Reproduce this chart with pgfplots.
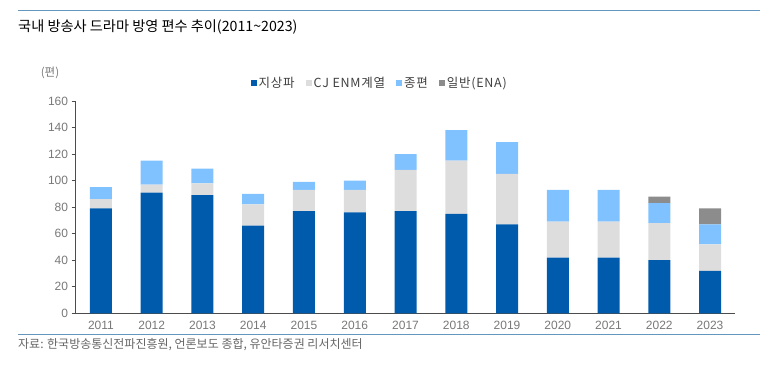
\documentclass[border=0pt]{standalone}
\usepackage{fontspec}
\setmainfont{Liberation Sans}
\newfontfamily\kr{Noto Sans CJK KR}
\newfontfamily\krwide[LetterSpace=6]{Noto Sans CJK KR}
\usepackage{pgfplots}
\pgfplotsset{compat=1.18}
\definecolor{cA}{RGB}{0,91,172}
\definecolor{cB}{RGB}{221,221,221}
\definecolor{cC}{RGB}{128,193,255}
\definecolor{cD}{RGB}{140,140,140}
\definecolor{lineblue}{RGB}{100,150,190}
\definecolor{tickgrey}{RGB}{120,120,120}
\begin{document}
\begin{tikzpicture}
\path[use as bounding box] (0pt,0pt) rectangle (773pt,366pt);
\draw[lineblue, line width=1.2pt] (18pt,355.5pt) -- (760pt,355.5pt);
\node[anchor=west, inner sep=0pt, font=\kr\fontsize{14.2}{16}\selectfont] at (18pt,339pt) {국내 방송사 드라마 방영 편수 추이(2011\textasciitilde2023)};
\node[anchor=center, inner sep=0pt, text=tickgrey, font=\kr\fontsize{11.5}{13}\selectfont] at (50pt,293pt) {(편)};
\begin{axis}[
  at={(75.6pt,52.7pt)}, anchor=south west, scale only axis,
  width=659.8pt, height=212.3pt,
  xmin=-0.5, xmax=12.5, ymin=0, ymax=160,
  ybar stacked, bar width=22pt,
  axis x line=bottom, axis y line=left,
  axis line style={-, draw=black!70, line width=0.8pt},
  xtick={0,1,2,3,4,5,6,7,8,9,10,11,12},
  xticklabels={2011,2012,2013,2014,2015,2016,2017,2018,2019,2020,2021,2022,2023},
  ytick={0,20,40,60,80,100,120,140,160},
  tick label style={text=tickgrey, font=\fontsize{12}{14}\selectfont},
  /pgf/number format/assume math mode=true,
  x tick style={draw=none},
  y tick style={draw=black!70, line width=0.6pt},
  tick align=outside, major tick length=4pt,
  legend style={at={(0.461,1.085)}, anchor=center, draw=none, fill=none,
    legend columns=-1, font=\krwide\fontsize{12.5}{14}\selectfont, text=black!75,
    /tikz/every odd column/.append style={column sep=0pt},
    /tikz/every even column/.append style={column sep=9pt}},
  legend image code/.code={\fill[#1] (1pt,-3pt) rectangle (7pt,3pt);},
]
\addplot[fill=cA, draw=none] coordinates {(0,79) (1,91) (2,89) (3,66) (4,77) (5,76) (6,77) (7,75) (8,67) (9,42) (10,42) (11,40) (12,32)};
\addplot[fill=cB, draw=none] coordinates {(0,7) (1,6) (2,9) (3,16) (4,16) (5,17) (6,31) (7,40) (8,38) (9,27) (10,27) (11,28) (12,20)};
\addplot[fill=cC, draw=none] coordinates {(0,9) (1,18) (2,11) (3,8) (4,6) (5,7) (6,12) (7,23) (8,24) (9,24) (10,24) (11,15) (12,15)};
\addplot[fill=cD, draw=none] coordinates {(0,0) (1,0) (2,0) (3,0) (4,0) (5,0) (6,0) (7,0) (8,0) (9,0) (10,0) (11,5) (12,12)};
\legend{지상파, CJ ENM계열, 종편, 일반(ENA)}
\end{axis}
\draw[lineblue, line width=1.2pt] (18pt,31.7pt) -- (760pt,31.7pt);
\node[anchor=west, inner sep=0pt, text=black!60, font=\kr\fontsize{12}{14}\selectfont] at (18pt,21pt) {자료: 한국방송통신전파진흥원, 언론보도 종합, 유안타증권 리서치센터};
\end{tikzpicture}
\end{document}
